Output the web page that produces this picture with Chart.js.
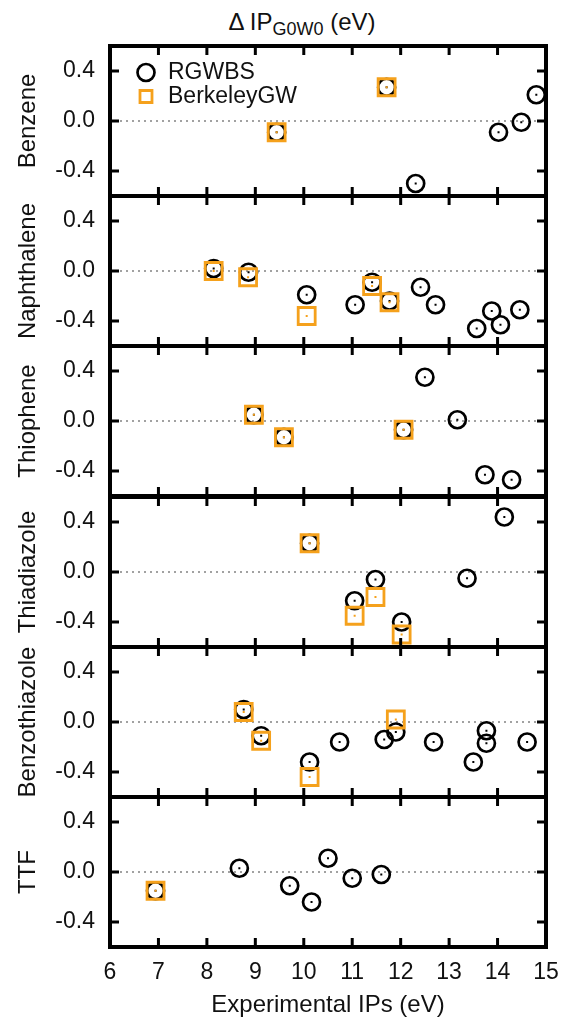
<!DOCTYPE html>
<html>
<head>
<meta charset="utf-8">
<script src="https://cdn.jsdelivr.net/npm/chart.js@4.4.0/dist/chart.umd.min.js"></script>
<style>
  body { margin: 0; background: #fff; }
  #wrap { position: relative; width: 572px; height: 1025px; font-family: "Liberation Sans", Arial, sans-serif; }
  #title { position: absolute; left: 0; top: 10px; width: 604px; text-align: center; font-size: 24px; line-height: 24px; color: #111; white-space: nowrap; }
  #title sub { font-size: 18px; line-height: 0; vertical-align: -5px; }
  canvas { position: absolute; left: 0; }
</style>
</head>
<body>
<div id="wrap">
  <div id="title">Δ IP<sub>G0W0</sub> (eV)</div>
</div>
<script>
// Experimental IP (eV) and Delta IP (eV) per molecule
const benzeneRgwbsIP = [9.44, 11.71, 12.31, 14.02, 14.49, 14.80];
const benzeneRgwbsDelta = [-0.09, 0.27, -0.50, -0.09, -0.01, 0.21];
const benzeneBgwIP = [9.44, 11.71];
const benzeneBgwDelta = [-0.09, 0.27];

const naphRgwbsIP = [8.14, 8.86, 10.06, 11.06, 11.41, 11.77, 12.41, 12.72, 13.57, 13.88, 14.06, 14.46];
const naphRgwbsDelta = [0.02, -0.01, -0.19, -0.27, -0.09, -0.24, -0.13, -0.27, -0.46, -0.32, -0.43, -0.31];
const naphBgwIP = [8.14, 8.85, 10.06, 11.41, 11.77];
const naphBgwDelta = [0.00, -0.05, -0.36, -0.12, -0.25];

const thiopheneRgwbsIP = [8.97, 9.59, 12.06, 12.50, 13.17, 13.74, 14.29];
const thiopheneRgwbsDelta = [0.05, -0.13, -0.07, 0.35, 0.01, -0.43, -0.47];
const thiopheneBgwIP = [8.97, 9.59, 12.06];
const thiopheneBgwDelta = [0.05, -0.13, -0.07];

const thiadiazoleRgwbsIP = [10.12, 11.05, 11.48, 12.02, 13.37, 14.14];
const thiadiazoleRgwbsDelta = [0.23, -0.23, -0.06, -0.40, -0.05, 0.44];
const thiadiazoleBgwIP = [10.12, 11.05, 11.48, 12.02];
const thiadiazoleBgwDelta = [0.23, -0.35, -0.20, -0.50];

const benzothiazoleRgwbsIP = [8.76, 9.12, 10.12, 10.74, 11.66, 11.90, 12.68, 13.50, 13.77, 13.77, 14.61];
const benzothiazoleRgwbsDelta = [0.10, -0.11, -0.32, -0.16, -0.14, -0.08, -0.16, -0.32, -0.07, -0.17, -0.16];
const benzothiazoleBgwIP = [8.76, 9.12, 10.12, 11.90];
const benzothiazoleBgwDelta = [0.08, -0.15, -0.44, 0.02];

const ttfRgwbsIP = [6.94, 8.67, 9.71, 10.16, 10.50, 11.00, 11.60];
const ttfRgwbsDelta = [-0.15, 0.03, -0.11, -0.24, 0.11, -0.05, -0.02];
const ttfBgwIP = [6.94];
const ttfBgwDelta = [-0.15];

const molecules = ['Benzene', 'Naphthalene', 'Thiophene', 'Thiadiazole', 'Benzothiazole', 'TTF'];
const seriesNames = ['RGWBS', 'BerkeleyGW'];
const xTicks = [6, 7, 8, 9, 10, 11, 12, 13, 14, 15];
const yTicks = [-0.4, 0.0, 0.4];

const panels = [
  [benzeneRgwbsIP, benzeneRgwbsDelta, benzeneBgwIP, benzeneBgwDelta],
  [naphRgwbsIP, naphRgwbsDelta, naphBgwIP, naphBgwDelta],
  [thiopheneRgwbsIP, thiopheneRgwbsDelta, thiopheneBgwIP, thiopheneBgwDelta],
  [thiadiazoleRgwbsIP, thiadiazoleRgwbsDelta, thiadiazoleBgwIP, thiadiazoleBgwDelta],
  [benzothiazoleRgwbsIP, benzothiazoleRgwbsDelta, benzothiazoleBgwIP, benzothiazoleBgwDelta],
  [ttfRgwbsIP, ttfRgwbsDelta, ttfBgwIP, ttfBgwDelta]
];

const ORANGE = '#f5a11c';
const panelTops = [46, 196, 346, 497, 647, 797];
const panelH = 150;
const plotLeft = 110, plotRight = 546;

Chart.defaults.font.family = '"Liberation Sans", Arial, sans-serif';
Chart.defaults.color = '#111';

function pairs(xs, ys) {
  return xs.map((x, i) => ({ x: x, y: ys[i] }));
}

// dotted zero line, centre dots, thick frame and inward ticks
const framePlugin = {
  id: 'frame',
  beforeDatasetsDraw(chart) {
    const { ctx, chartArea: a, scales: { y } } = chart;
    const y0 = y.getPixelForValue(0);
    ctx.save();
    ctx.setLineDash([2, 4]);
    ctx.lineWidth = 1.2;
    ctx.strokeStyle = '#444';
    ctx.beginPath();
    ctx.moveTo(a.left + 4, y0);
    ctx.lineTo(a.right - 4, y0);
    ctx.stroke();
    ctx.restore();
  },
  afterDatasetsDraw(chart) {
    const { ctx, chartArea: a, scales: { x, y } } = chart;
    ctx.save();
    chart.data.datasets.forEach((ds, i) => {
      ctx.fillStyle = ds.borderColor;
      chart.getDatasetMeta(i).data.forEach(pt => {
        ctx.fillRect(pt.x - 1, pt.y - 1, 2, 2);
      });
    });
    ctx.strokeStyle = '#000';
    ctx.lineWidth = 4;
    ctx.strokeRect(a.left, a.top, a.right - a.left, a.bottom - a.top);
    ctx.lineWidth = 3;
    const tl = 9;
    ctx.beginPath();
    xTicks.forEach(v => {
      const px = x.getPixelForValue(v);
      ctx.moveTo(px, a.top); ctx.lineTo(px, a.top + tl);
      ctx.moveTo(px, a.bottom); ctx.lineTo(px, a.bottom - tl);
    });
    yTicks.forEach(v => {
      const py = y.getPixelForValue(v);
      ctx.moveTo(a.left, py); ctx.lineTo(a.left + tl, py);
      ctx.moveTo(a.right, py); ctx.lineTo(a.right - tl, py);
    });
    ctx.stroke();
    ctx.restore();
  }
};

// nudge the in-plot legend away from the frame
const legendShift = {
  id: 'legendShift',
  afterLayout(chart) {
    const lg = chart.legend;
    if (lg && lg.options.display) {
      lg.left = chart.chartArea.left + 24.5;
      lg.top = chart.chartArea.top + 14;
    }
  }
};

const wrap = document.getElementById('wrap');

panels.forEach((p, idx) => {
  const last = idx === panels.length - 1;
  const canvas = document.createElement('canvas');
  const top = panelTops[idx] - 4;
  const h = last ? 1025 - top : panelH + 8;
  canvas.width = 572;
  canvas.height = h;
  canvas.style.top = top + 'px';
  wrap.appendChild(canvas);

  new Chart(canvas.getContext('2d'), {
    type: 'scatter',
    data: {
      datasets: [
        {
          label: seriesNames[0],
          data: pairs(p[0], p[1]),
          pointStyle: 'circle',
          pointRadius: 8.5,
          borderWidth: 2.7,
          borderColor: '#000',
          backgroundColor: 'rgba(0,0,0,0)',
          order: 2
        },
        {
          label: seriesNames[1],
          data: pairs(p[2], p[3]),
          pointStyle: 'rect',
          pointRadius: 12,
          borderWidth: 2.8,
          borderColor: ORANGE,
          backgroundColor: 'rgba(0,0,0,0)',
          order: 1
        }
      ]
    },
    options: {
      responsive: false,
      animation: false,
      devicePixelRatio: 1,
      events: [],
      layout: {
        autoPadding: false,
        padding: { left: 0, right: 572 - plotRight, top: 4, bottom: last ? 0 : 4 }
      },
      scales: {
        x: {
          type: 'linear',
          min: 6,
          max: 15,
          display: last,
          grid: { display: false, drawTicks: false },
          border: { display: false },
          afterBuildTicks: s => { s.ticks = xTicks.map(v => ({ value: v })); },
          afterFit: s => {
            s.height = last ? 1025 - (panelTops[5] + panelH) : 0;
            s.paddingLeft = 0;
            s.paddingRight = 0;
          },
          ticks: { font: { size: 23 }, color: '#111', padding: 12, maxRotation: 0 },
          title: {
            display: true,
            text: 'Experimental IPs (eV)',
            font: { size: 24 },
            color: '#111',
            padding: { top: 0, bottom: 5 }
          }
        },
        y: {
          min: -0.6,
          max: 0.6,
          grid: { display: false, drawTicks: false },
          border: { display: false },
          afterBuildTicks: s => { s.ticks = yTicks.map(v => ({ value: v })); },
          afterFit: s => {
            s.width = plotLeft;
            s.paddingTop = 0;
            s.paddingBottom = 0;
          },
          ticks: {
            font: { size: 23 },
            color: '#111',
            padding: 15,
            callback: v => v.toFixed(1)
          },
          title: {
            display: true,
            text: molecules[idx],
            font: { size: 24 },
            color: '#111',
            padding: { top: 14, bottom: 0 }
          }
        }
      },
      plugins: {
        legend: {
          display: idx === 0,
          position: 'chartArea',
          align: 'start',
          labels: {
            usePointStyle: true,
            boxWidth: 21,
            boxHeight: 12,
            padding: 1,
            color: '#111',
            font: { size: 23 },
            sort: (a, b) => a.datasetIndex - b.datasetIndex
          }
        },
        tooltip: { enabled: false }
      }
    },
    plugins: [framePlugin, legendShift]
  });
});
</script>
</body>
</html>
